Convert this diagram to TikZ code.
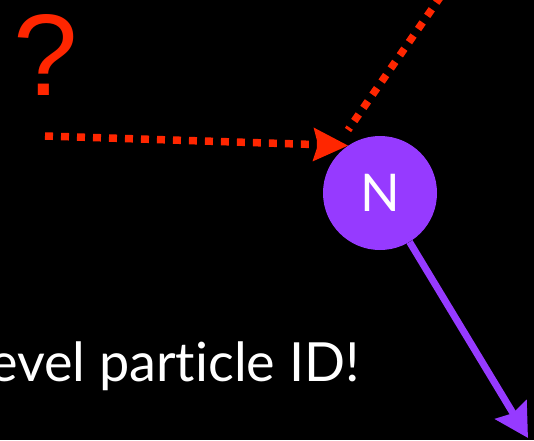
\documentclass[tikz,border=0pt]{standalone}
\usepackage{fontspec}
\setmainfont{Lato}[Ligatures=NoCommon]
\newfontfamily\qfont{Liberation Sans}
\usetikzlibrary{arrows.meta,calc}
\definecolor{qred}{RGB}{255,38,0}
\definecolor{qpurple}{RGB}{150,58,255}
\tikzset{
  reddots/.style={draw=qred, line width=7.5pt, dash pattern=on 8pt off 8pt},
  particle/.style={circle, fill=qpurple, minimum size=114pt, inner sep=0pt, text=white, font=\fontsize{52}{52}\selectfont},
  purplearrow/.style={draw=qpurple, line width=7pt, -{Stealth[length=33pt,width=36pt,inset=4pt]}},
}
\begin{document}
\begin{tikzpicture}[x=1pt,y=-1pt]
\useasboundingbox[fill=black] (0,0) rectangle (534,440);
\node[particle] (N) at (380,193) {N};
\node[text=qred, font=\qfont\fontsize{116}{116}\selectfont, anchor=base] (q) at (46,95) {?};
\node[text=white, font=\fontsize{54}{54}\selectfont, anchor=base east, inner sep=0pt] (t) at (360,381) {evel particle ID!};
\coordinate (s) at (45,136);
\draw[reddots, -{Stealth[length=35pt,width=34pt,inset=5pt,line width=0pt]}] (s) -- (N.124);
\coordinate (top) at (450,-17);
\coordinate (stop) at (348,130);
\draw[reddots] (top) -- (stop);
\coordinate (tip) at (528,438);
\draw[purplearrow] (N) -- (tip);
\end{tikzpicture}
\end{document}
